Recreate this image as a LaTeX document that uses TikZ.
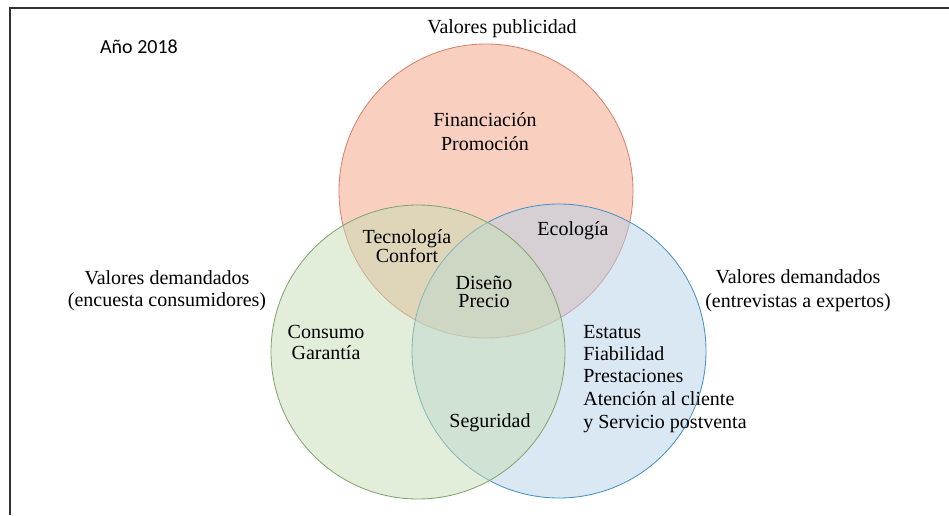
\documentclass[tikz,border=0pt]{standalone}
\usepackage{fontspec}
\setmainfont{Liberation Serif}
\newfontfamily\calibri{Carlito}
\usepackage{tikz}
\usetikzlibrary{positioning}
\definecolor{pubred}{RGB}{243,161,129}
\definecolor{pubredline}{RGB}{214,128,110}
\definecolor{consgreen}{RGB}{197,221,179}
\definecolor{consgreenline}{RGB}{128,164,112}
\definecolor{expblue}{RGB}{181,209,233}
\definecolor{expblueline}{RGB}{70,146,196}
\tikzstyle{venn} = [circle, minimum size=176.4pt, inner sep=0pt, line width=0.5pt, fill opacity=0.5]
\tikzstyle{txt} = [font=\fontsize{12}{14}\selectfont, align=center, inner sep=0pt]
\tikzstyle{tight} = [font=\fontsize{12}{11.2}\selectfont]
\tikzstyle{frame} = [line width=1pt, draw=black!80]

\begin{document}
\begin{tikzpicture}[x=0.6pt, y=-0.6pt]
\useasboundingbox (0,0) rectangle (949,515);
\draw [frame] (949,8) -- (10,8) -- (10,515);

% circles
\node (pub) [venn, draw=pubredline, fill=pubred] at (486,191) {};
\node (exp) [venn, draw=expblueline, fill=expblue] at (559,351) {};
\node (cons) [venn, draw=consgreenline, fill=consgreen] at (418,352) {};

% titles
\node (year) [txt, font=\calibri\fontsize{12}{14}\selectfont] at (139,47) {Año 2018};
\node (pubtitle) [txt] at (502,29) {Valores publicidad};
\node (constitle) [txt, font=\fontsize{12}{13.2}\selectfont] at (167,291) {Valores demandados\\(encuesta consumidores)};
\node (exptitle) [txt, font=\fontsize{12}{14.4}\selectfont] at (798,291) {Valores demandados\\(entrevistas a expertos)};

% values
\node (fin) [txt, font=\fontsize{12}{14.4}\selectfont] at (485,132) {Financiación\\Promoción};
\node (tec) [txt, tight] at (407,246) {Tecnología\\Confort};
\node (eco) [txt] at (573,231) {Ecología};
\node (dis) [txt, font=\fontsize{12}{10.8}\selectfont] at (484,292) {Diseño\\Precio};
\node (con) [txt, font=\fontsize{12}{12.6}\selectfont] at (326,342) {Consumo\\Garantía};
\node (seg) [txt] at (490,423) {Seguridad};
\node (est) [txt, align=left, anchor=north west, font=\fontsize{12}{13.2}\selectfont] at (583,325) {Estatus\\Fiabilidad\\Prestaciones};
\node (ate) [txt, align=left, font=\fontsize{12}{13.8}\selectfont, below right=5pt and 0pt of est.south west] {Atención al cliente\\y Servicio postventa};
\end{tikzpicture}
\end{document}
